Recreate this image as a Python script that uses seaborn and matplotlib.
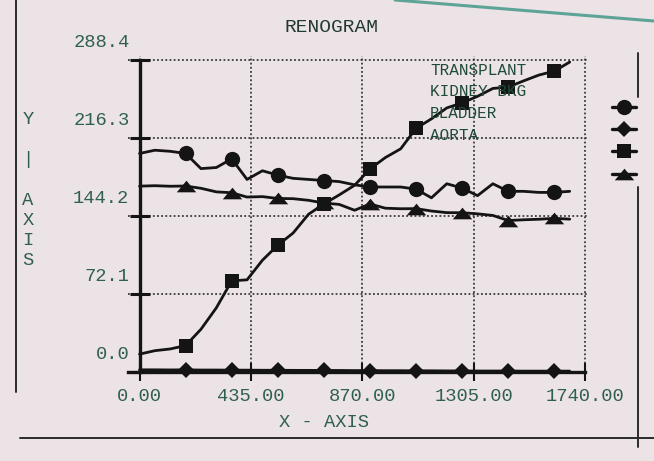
import numpy as np
import matplotlib
matplotlib.use("Agg")
import matplotlib.pyplot as plt
from matplotlib.lines import Line2D
from matplotlib.legend_handler import HandlerLine2D
from matplotlib.transforms import ScaledTranslation
import seaborn as sns

# Time axis (seconds) and count series
time_s = [0, 60, 120, 180, 240, 300, 360, 420, 480, 540, 600, 660, 720, 780, 840,
          900, 960, 1020, 1080, 1140, 1200, 1260, 1320, 1380, 1440, 1500, 1560, 1620, 1680]

transplant = [202, 205, 204, 202, 188, 189, 197, 178, 186, 182, 179, 178, 177, 176, 173,
              171, 171, 171, 169, 161, 174, 170, 163, 174, 167, 167, 166, 166, 167]
kidney_bkg = [2.0, 2.0, 1.9, 2.0, 1.8, 1.8, 1.7, 1.7, 1.6, 1.6, 1.5, 1.5, 1.4, 1.4, 1.3,
              1.3, 1.2, 1.2, 1.1, 1.1, 1.0, 1.0, 0.9, 0.9, 0.9, 0.8, 0.8, 0.8, 0.8]
bladder = [16.5, 19.7, 21.3, 24.4, 39.5, 59.3, 84.2, 85.2, 103.3, 117.2, 128.5, 145.8, 155.3, 163.7, 172.6,
           187.7, 198.2, 206.3, 225.2, 234.0, 244.1, 248.8, 254.8, 262.1, 263.4, 269.1, 274.5, 278.1, 286.5]
aorta = [171.8, 172.2, 171.7, 171.9, 169.8, 166.5, 165.7, 161.7, 162.1, 160.4, 160.2, 158.7, 156.2, 154.9, 149.5,
         155.3, 151.4, 150.9, 151.0, 148.8, 147.3, 147.2, 146.2, 144.7, 140.0, 140.7, 141.2, 142.0, 141.3]

series_names = ["TRANSPLANT", "KIDNEY BKG", "BLADDER", "AORTA"]
x_ticks = [0, 435, 870, 1305, 1740]
x_tick_labels = ["0.00", "435.00", "870.00", "1305.00", "1740.00"]
y_ticks = [0.0, 72.1, 144.2, 216.3, 288.4]
y_tick_labels = ["0.0", "72.1", "144.2", "216.3", "288.4"]

PAPER = "#ece3e6"
INK = "#141414"
GREEN_TXT = "#2f5f4d"
TITLE_TXT = "#22392f"
MONO = "Liberation Mono"

sns.set_theme(style="white")
plt.rcParams["font.family"] = [MONO, "DejaVu Sans Mono", "DejaVu Sans"]

W, H = 654, 461
fig = plt.figure(figsize=(W / 100, H / 100), dpi=100, facecolor=PAPER)
ax = fig.add_axes([0.1957, 0.1837, 0.7028, 0.6946], facecolor=PAPER)

flat_tri = [(-1.0, -0.6), (1.0, -0.6), (0.0, 0.6), (-1.0, -0.6)]
styles = [("o", 11.0), ("D", 8.5), ("s", 10.0), (flat_tri, 14.0)]
values = [transplant, kidney_bkg, bladder, aorta]

for vals, (mk, ms) in zip(values, styles):
    sns.lineplot(x=time_s, y=vals, ax=ax, color=INK, linewidth=2.0,
                 marker=mk, markersize=ms, markeredgewidth=0,
                 markevery=(3, 3), clip_on=False, zorder=3,
                 estimator=None, sort=False)

ax.set_xlim(-45, 1750)
ax.set_ylim(-4, 292)

for side in ("top", "right"):
    ax.spines[side].set_visible(False)
for side in ("left", "bottom"):
    ax.spines[side].set_linewidth(2.4)
    ax.spines[side].set_color(INK)
    ax.spines[side].set_position(("data", 0))
    ax.spines[side].set_zorder(2.5)
ax.spines["left"].set_bounds(0, 288.4)
ax.spines["bottom"].set_bounds(-45, 1740)

ax.set_xticks(x_ticks, labels=x_tick_labels)
ax.set_yticks(y_ticks, labels=y_tick_labels)
ax.tick_params(axis="y", direction="inout", length=14.5, width=2.2, pad=0,
               labelsize=13.5, labelcolor=GREEN_TXT, color=INK, left=True)
ax.tick_params(axis="x", direction="inout", length=13, width=1.5, pad=5,
               labelsize=13.5, labelcolor=GREEN_TXT, color=INK, bottom=True)

ax.grid(True, linestyle=(0, (1, 1.3)), color="#3a3a3a", linewidth=1.3)
ax.set_axisbelow(True)

# Y tick labels sit above their tick marks
lift = ScaledTranslation(0, 19 / 100, fig.dpi_scale_trans)
for lab in ax.get_yticklabels():
    lab.set_transform(lab.get_transform() + lift)

ax.set_xlabel("X - AXIS", fontsize=13.5, color=GREEN_TXT)
ax.xaxis.label.set_va("center")
ax.xaxis.set_label_coords(0.426, -0.143)

ax.set_ylabel("Y\n\n|\n\nA\nX\nI\nS", rotation=0, fontsize=13.5, color=GREEN_TXT,
              ha="center", va="center", linespacing=1.25)
ax.yaxis.set_label_coords(-0.2176, 0.582)

fig.text(332 / W, 1 - 27 / H, "RENOGRAM", ha="center", va="center",
         fontsize=14, color=TITLE_TXT)

# Series names inside the plot area
for i, name in enumerate(series_names):
    ax.text(1135, 279 - 20 * i, name, fontsize=11.5, color="#1f4a38",
            ha="left", va="center", zorder=4)


class EndMarkerHandler(HandlerLine2D):
    """Legend key: short stem with the marker at its right end."""
    def get_xdata(self, legend, xdescent, ydescent, width, height, fontsize):
        xdata = np.array([-xdescent, -xdescent + width])
        return xdata, np.array([-xdescent + width])


keys = [Line2D([], [], color=INK, linewidth=2.4, marker=mk, markersize=ms,
               markeredgewidth=0) for mk, ms in styles]
fig.legend(keys, [" "] * 4, loc="upper left",
           bbox_to_anchor=(612 / W, 1 - 101 / H), frameon=False,
           fontsize=10, handlelength=1.7, handleheight=1.0, labelspacing=0.6,
           handletextpad=0.2, borderpad=0, borderaxespad=0,
           handler_map={Line2D: EndMarkerHandler()})


def frame_line(x0, y0, x1, y1, color="#2a2a2a", lw=1.4):
    fig.add_artist(Line2D([x0 / W, x1 / W], [1 - y0 / H, 1 - y1 / H],
                          transform=fig.transFigure, color=color, linewidth=lw))


# Surrounding box lines of the printout
frame_line(16, 0, 16, 392)
frame_line(638, 53, 638, 97)
frame_line(638, 187, 638, 447)
frame_line(20, 438, 654, 438)
frame_line(395, 0, 654, 21, color="#5da497", lw=2.2)

fig.savefig("out.png", dpi=100, facecolor=PAPER)
